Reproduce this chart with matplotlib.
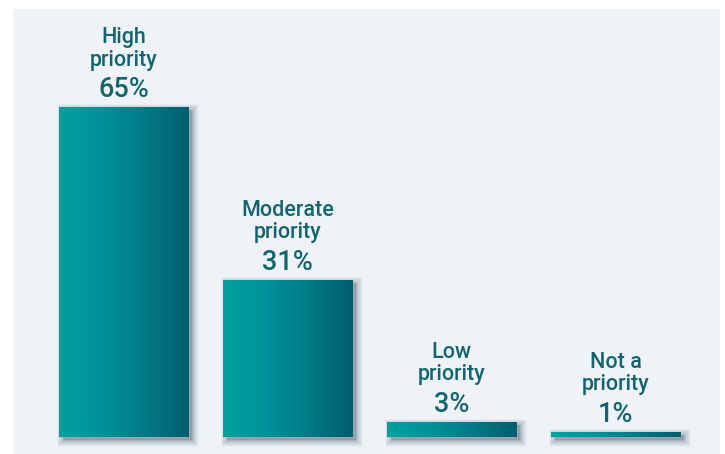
import numpy as np
import matplotlib.pyplot as plt
from matplotlib.colors import LinearSegmentedColormap
from matplotlib.patches import Rectangle
import matplotlib.transforms as mtransforms

# --- Data ---
categories = ["High\npriority", "Moderate\npriority", "Low\npriority", "Not a\npriority"]
values = [65, 31, 3, 1]
pct_labels = ["65%", "31%", "3%", "1%"]

text_color = "#12646f"
panel_color = "#eff3f7"
grad = LinearSegmentedColormap.from_list("teal", ["#00a19d", "#00919a", "#007a85", "#005e6d"])

W, H = 725, 454
fig = plt.figure(figsize=(W / 100, H / 100), dpi=100)
fig.patch.set_facecolor("white")

# axes placed over the light panel
ax = fig.add_axes([13 / W, 0, (720 - 13) / W, (454 - 9) / H])
ax.set_facecolor(panel_color)
for s in ax.spines.values():
    s.set_visible(False)
ax.set_xticks([])
ax.set_yticks([])

bar_w = 0.787
ax.set_xlim(-0.674, 3.637)
ax.set_ylim(-3.35, 84.4)

x = np.arange(len(values))
bars = ax.bar(x, values, width=bar_w, color="#008a93", zorder=3)

ramp = np.linspace(0, 1, 256).reshape(1, -1)
for i, b in enumerate(bars):
    bx, by = b.get_x(), b.get_y()
    bw, bh = b.get_width(), b.get_height()

    # soft drop shadow to the right / below
    off = mtransforms.offset_copy(ax.transData, fig=fig, x=4, y=-3, units="dots")
    for k in range(10, 0, -1):
        sh = Rectangle((bx, by), bw, bh, transform=off, facecolor="#4d5d72",
                       edgecolor="#4d5d72", linewidth=k * 0.9, alpha=0.04, zorder=2)
        ax.add_patch(sh)

    im = ax.imshow(ramp, cmap=grad, aspect="auto", extent=(bx, bx + bw, by, by + bh),
                   zorder=4, interpolation="nearest")
    im.set_clip_path(b)

    cx = bx + bw / 2
    ax.annotate(pct_labels[i], (cx, by + bh), xytext=(0, 7.2), textcoords="offset points",
                ha="center", va="baseline", fontsize=19.5, color=text_color,
                family=["Roboto", "DejaVu Sans"], fontweight="medium", zorder=5)
    ax.annotate(categories[i], (cx, by + bh), xytext=(0, 26.5), textcoords="offset points",
                ha="center", va="bottom", fontsize=15.5, color=text_color,
                family=["Roboto", "DejaVu Sans"], fontweight="medium", linespacing=1.08,
                zorder=5)

ax.set_xlim(-0.674, 3.637)
ax.set_ylim(-3.35, 84.4)

plt.savefig("out.png", dpi=100, facecolor=fig.get_facecolor())
